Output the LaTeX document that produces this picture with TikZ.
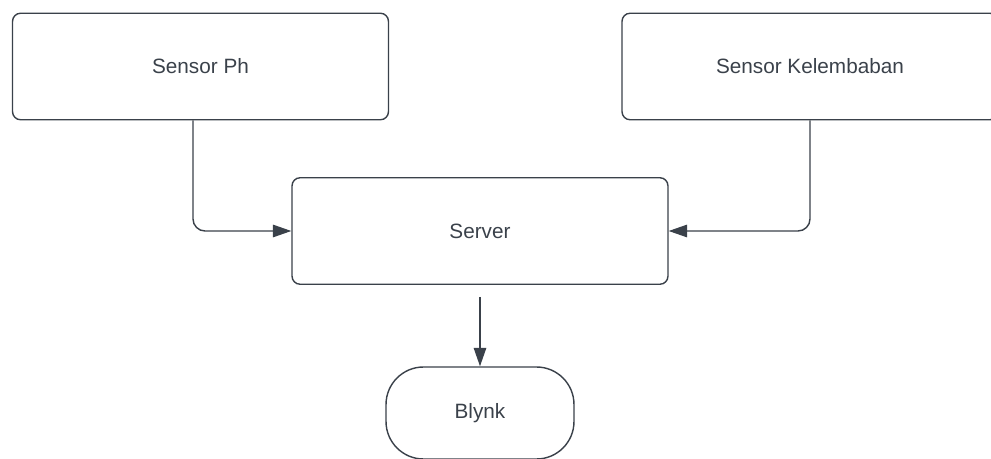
\documentclass[tikz,border=0pt]{standalone}
\usepackage{fontspec}
\setmainfont{Liberation Sans}
\usepackage{tikz}
\usetikzlibrary{arrows.meta}
\definecolor{inkgrey}{HTML}{3A414A}
\tikzset{>={Triangle[length=0.37cm,width=0.25cm]}}
\tikzset{
    block/.style={draw=inkgrey, line width=0.8pt, rounded corners=0.16cm,
        minimum width=7.52cm, minimum height=2.13cm, text=inkgrey,
        font=\fontsize{11.8}{14}\selectfont},
    terminal/.style={block, rounded corners=0.75cm,
        minimum width=3.76cm, minimum height=1.84cm}
}
\begin{document}
\begin{tikzpicture}[x=0.02cm,y=-0.02cm]
    \clip (0,0) rectangle (991,459);
    \node[block] at (200.5,66.5) (ph) {Sensor Ph};
    \node[block] at (810,66.5) (klb) {Sensor Kelembaban};
    \node[block] at (480,231) (srv) {Server};
    \node[terminal] at (480,413) (blynk) {Blynk};
    \path[->, inkgrey, line width=0.8pt, rounded corners=0.24cm]
    ([xshift=-0.15cm]ph.south) edge [to path={|- (\tikztotarget)}] (srv.west)
    (klb.south) edge [to path={|- (\tikztotarget)}] (srv.east)
    ([yshift=-0.24cm]srv.south) edge (blynk.north)
    ;
\end{tikzpicture}
\end{document}
